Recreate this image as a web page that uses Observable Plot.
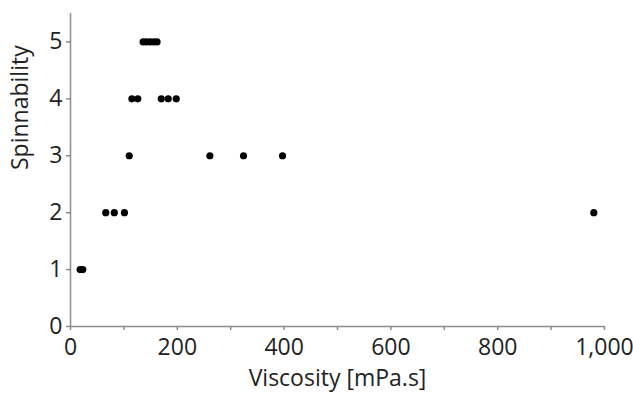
<!DOCTYPE html>
<html>
<head>
<meta charset="utf-8">
<script src="https://cdn.jsdelivr.net/npm/d3@7"></script>
<script src="https://cdn.jsdelivr.net/npm/@observablehq/plot@0.6"></script>
<style>
  html, body { margin: 0; padding: 0; background: #fff; }
  #chart svg { display: block; }
  #chart svg [aria-label$="label"] text, #chart svg g[aria-label="x-axis label"], #chart svg g[aria-label="y-axis label"] { font-size: 23px; }
</style>
</head>
<body>
<div id="chart"></div>
<script>
const viscosity    = [18, 23, 66, 82, 101, 980, 110, 261, 324, 397, 115, 126, 170, 183, 198, 136, 142, 149, 156, 162];
const spinnability = [1, 1, 2, 2, 2, 2, 3, 3, 3, 3, 4, 4, 4, 4, 4, 5, 5, 5, 5, 5];
const xTicks = [0, 100, 200, 300, 400, 500, 600, 700, 800, 900, 1000];
const yTicks = [0, 1, 2, 3, 4, 5];
const xLabel = "Viscosity [mPa.s]";
const yLabel = "Spinnability";

const data = viscosity.map((v, i) => ({x: v, y: spinnability[i]}));
const axisColor = "#8c8c8c";
const textColor = "#222";

const chart = Plot.plot({
  width: 633,
  height: 393,
  marginLeft: 70,
  marginRight: 29,
  marginTop: 13,
  marginBottom: 67,
  style: {fontFamily: "'Open Sans', sans-serif", fontSize: "21px", color: textColor, background: "#fff"},
  x: {domain: [0, 1000]},
  y: {domain: [0, 5.5]},
  marks: [
    Plot.axisX({
      ticks: xTicks,
      tickSize: 4,
      tickPadding: 8,
      stroke: axisColor,
      strokeWidth: 1.5,
      fill: textColor,
      tickFormat: d => d % 200 === 0 ? d3.format(",")(d) : "",
      label: null
    }),
    Plot.axisY({
      ticks: yTicks,
      tickSize: 4,
      tickPadding: 4,
      stroke: axisColor,
      strokeWidth: 1.5,
      fill: textColor,
      tickFormat: d => String(d),
      label: null
    }),
    Plot.text([xLabel], {
      frameAnchor: "bottom",
      dy: 52,
      fontSize: 23,
      fill: textColor,
      lineAnchor: "middle"
    }),
    Plot.text([yLabel], {
      frameAnchor: "left",
      dx: -50,
      rotate: -90,
      fontSize: 23,
      fill: textColor,
      lineAnchor: "middle"
    }),
    Plot.ruleY([0], {stroke: axisColor, strokeWidth: 1.5}),
    Plot.ruleX([0], {stroke: axisColor, strokeWidth: 1.5}),
    Plot.dot(data, {x: "x", y: "y", r: 3.6, fill: "#000", stroke: "none"})
  ]
});
document.getElementById("chart").appendChild(chart);
</script>
</body>
</html>
